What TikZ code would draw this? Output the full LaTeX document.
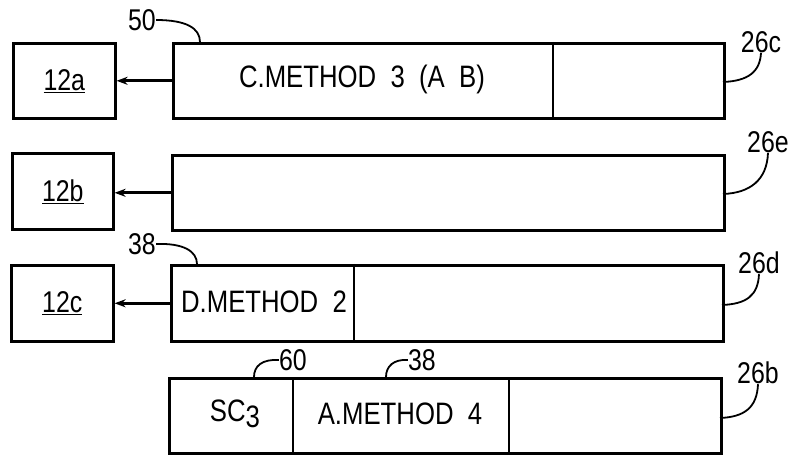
\documentclass[tikz,border=0pt]{standalone}
\usepackage{fontspec}
\setmainfont{Liberation Sans}[FakeStretch=0.83]
\usetikzlibrary{arrows.meta}
\begin{document}
\begin{tikzpicture}[x=1pt,y=-1pt,
  refbox/.style={draw, line width=2.6pt, anchor=north west, inner sep=0pt},
  celltext/.style={font=\fontsize{31}{36}\selectfont, inner sep=0pt},
  reftext/.style={font=\fontsize{30}{34}\selectfont, inner sep=0pt},
  numtext/.style={font=\fontsize{30}{34}\selectfont, inner sep=0pt},
  divider/.style={line width=2pt},
  leader/.style={line width=1.8pt},
  feed/.style={line width=2.6pt, -{Stealth[length=11pt,width=8pt]}}]
\useasboundingbox (0,0) rectangle (796,457);
% left boxes
\node[refbox, minimum width=102pt, minimum height=75pt] (b12a) at (12,42) {};
\node[refbox, minimum width=101pt, minimum height=76pt] (b12b) at (11,152) {};
\node[refbox, minimum width=102pt, minimum height=76pt] (b12c) at (10,264) {};
\node[reftext] at (b12a.center) {\underline{12a}};
\node[reftext] at (b12b.center) {\underline{12b}};
\node[reftext] at (b12c.center) {\underline{12c}};
% bars
\node[refbox, minimum width=551pt, minimum height=75pt] (b26c) at (172,42) {};
\node[refbox, minimum width=552pt, minimum height=75pt] (b26e) at (171,154) {};
\node[refbox, minimum width=552pt, minimum height=76pt] (b26d) at (170,264) {};
\node[refbox, minimum width=552pt, minimum height=75pt] (b26b) at (168,377) {};
% dividers
\draw[divider] (553,42) -- (553,117);
\draw[divider] (354,264) -- (354,340);
\draw[divider] (293,377) -- (293,452);
\draw[divider] (509,377) -- (509,452);
% cell texts
\node[celltext] (t1) at (362,79) {C.METHOD\ \ 3\ \ (A\ \ B)};
\node[celltext] (t3) at (264,302) {D.METHOD\ \ 2};
\node[celltext] (t4) at (235,414) {SC\raisebox{-0.4ex}{3}};
\node[celltext] (t5) at (400,414) {A.METHOD\ \ 4};
% arrows
\draw[feed] (b26c.west) -- (b26c.west -| b12a.east);
\draw[feed] (b26e.west) -- (b26e.west -| b12b.east);
\draw[feed] (b26d.west) -- (b26d.west -| b12c.east);
% reference labels
\node[numtext] (l50) at (142,20) {50};
\node[numtext] (l38a) at (142,244) {38};
\node[numtext] (l60) at (293,360) {60};
\node[numtext] (l38b) at (422,360) {38};
\node[numtext] (l26c) at (761,42) {26c};
\node[numtext] (l26e) at (768,142) {26e};
\node[numtext] (l26d) at (759,263) {26d};
\node[numtext] (l26b) at (758,373) {26b};
% leaders
\coordinate (p50) at (200,42);
\coordinate (p38a) at (197,264);
\coordinate (p60) at (254,377);
\coordinate (p38b) at (386,377);
\draw[leader] (l50.east) .. controls (186,20) and (200,28) .. (p50);
\draw[leader] (l38a.east) .. controls (183,243) and (197,251) .. (p38a);
\draw[leader] (l60.west) .. controls (262,359) and (254,366) .. (p60);
\draw[leader] (l38b.west) .. controls (394,359) and (386,366) .. (p38b);
\draw[leader] (723,82) .. controls (748,81) and (760,72) .. (l26c.south);
\draw[leader] (723,194) .. controls (750,193) and (767,180) .. (l26e.south);
\draw[leader] (722,305) .. controls (746,304) and (758,296) .. (l26d.south);
\draw[leader] (720,418) .. controls (744,417) and (757,408) .. (l26b.south);
\end{tikzpicture}
\end{document}
